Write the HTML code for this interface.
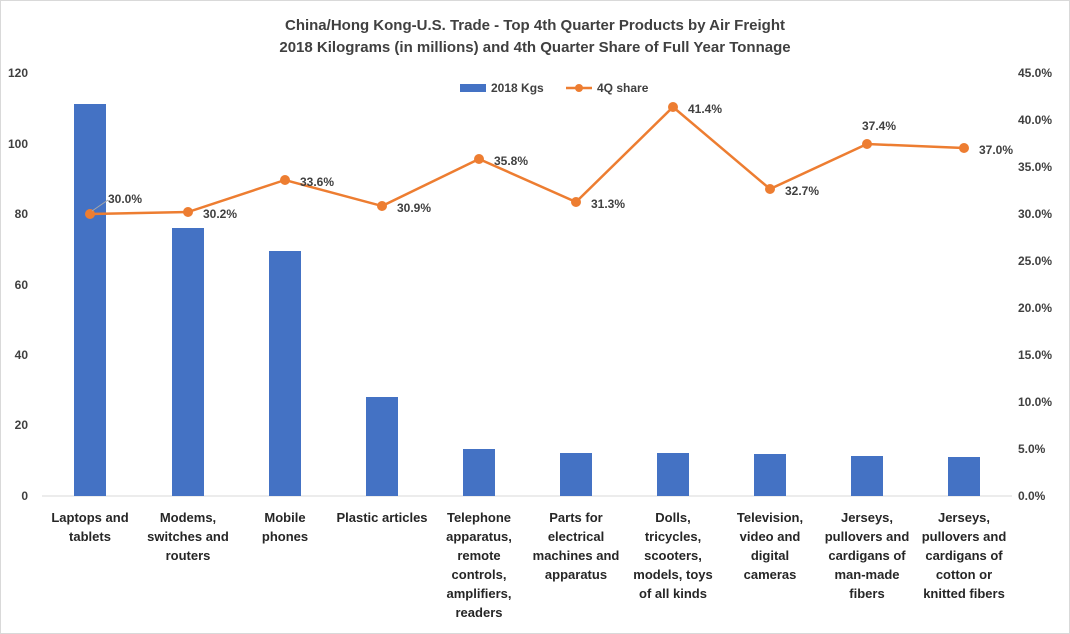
<!DOCTYPE html>
<html><head><meta charset="utf-8"><style>
body{margin:0;background:#fff;}
svg{display:block;font-family:"Liberation Sans",Arial,sans-serif;}
</style></head><body>
<svg width="1070" height="634" viewBox="0 0 1070 634">
<rect x="0.5" y="0.5" width="1069" height="633" fill="#fff" stroke="#d9d9d9"/>
<text x="535" y="30" text-anchor="middle" font-size="15" font-weight="bold" fill="#404040">China/Hong Kong-U.S. Trade - Top 4th Quarter Products by Air Freight</text>
<text x="535" y="52" text-anchor="middle" font-size="15" font-weight="bold" fill="#404040">2018 Kilograms (in millions) and 4th Quarter Share of Full Year Tonnage</text>
<line x1="42" y1="496" x2="1012" y2="496" stroke="#d9d9d9"/>
<g font-size="12" font-weight="bold" fill="#404040" text-anchor="end">
<text x="28" y="77">120</text><text x="28" y="148">100</text><text x="28" y="218">80</text><text x="28" y="289">60</text><text x="28" y="359">40</text><text x="28" y="429">20</text><text x="28" y="500">0</text>
</g>
<g font-size="12" font-weight="bold" fill="#404040" text-anchor="start">
<text x="1018" y="77">45.0%</text><text x="1018" y="124">40.0%</text><text x="1018" y="171">35.0%</text><text x="1018" y="218">30.0%</text><text x="1018" y="265">25.0%</text><text x="1018" y="312">20.0%</text><text x="1018" y="359">15.0%</text><text x="1018" y="406">10.0%</text><text x="1018" y="453">5.0%</text><text x="1018" y="500">0.0%</text>
</g>
<g fill="#4472c4">
<rect x="74" y="104" width="32" height="392"/>
<rect x="172" y="228" width="32" height="268"/>
<rect x="269" y="251" width="32" height="245"/>
<rect x="366" y="397" width="32" height="99"/>
<rect x="463" y="449" width="32" height="47"/>
<rect x="560" y="453" width="32" height="43"/>
<rect x="657" y="453" width="32" height="43"/>
<rect x="754" y="454" width="32" height="42"/>
<rect x="851" y="456" width="32" height="40"/>
<rect x="948" y="457" width="32" height="39"/>
</g>
<polyline fill="none" stroke="#ed7d31" stroke-width="2.5" points="90,214 188,212 285,180 382,206 479,159 576,202 673,107 770,189 867,144 964,148"/>
<g fill="#ed7d31">
<circle cx="90" cy="214" r="5"/><circle cx="188" cy="212" r="5"/><circle cx="285" cy="180" r="5"/><circle cx="382" cy="206" r="5"/><circle cx="479" cy="159" r="5"/><circle cx="576" cy="202" r="5"/><circle cx="673" cy="107" r="5"/><circle cx="770" cy="189" r="5"/><circle cx="867" cy="144" r="5"/><circle cx="964" cy="148" r="5"/>
</g>
<line x1="92" y1="211" x2="108" y2="200" stroke="#a6a6a6"/>
<g font-size="12" font-weight="bold" fill="#404040">
<text x="108" y="203">30.0%</text><text x="203" y="218">30.2%</text><text x="300" y="186">33.6%</text><text x="397" y="212">30.9%</text><text x="494" y="165">35.8%</text><text x="591" y="208">31.3%</text><text x="688" y="113">41.4%</text><text x="785" y="195">32.7%</text><text x="862" y="130">37.4%</text><text x="979" y="154">37.0%</text>
</g>
<rect x="460" y="84" width="26" height="8" fill="#4472c4"/>
<text x="491" y="92" font-size="12" font-weight="bold" fill="#404040">2018 Kgs</text>
<line x1="566" y1="88" x2="592" y2="88" stroke="#ed7d31" stroke-width="2.5"/>
<circle cx="579" cy="88" r="4" fill="#ed7d31"/>
<text x="597" y="92" font-size="12" font-weight="bold" fill="#404040">4Q share</text>
<g font-size="13" font-weight="bold" fill="#262626" text-anchor="middle">
<text x="90" y="522">Laptops and</text><text x="90" y="541">tablets</text>
<text x="188" y="522">Modems,</text><text x="188" y="541">switches and</text><text x="188" y="560">routers</text>
<text x="285" y="522">Mobile</text><text x="285" y="541">phones</text>
<text x="382" y="522">Plastic articles</text>
<text x="479" y="522">Telephone</text><text x="479" y="541">apparatus,</text><text x="479" y="560">remote</text><text x="479" y="579">controls,</text><text x="479" y="598">amplifiers,</text><text x="479" y="617">readers</text>
<text x="576" y="522">Parts for</text><text x="576" y="541">electrical</text><text x="576" y="560">machines and</text><text x="576" y="579">apparatus</text>
<text x="673" y="522">Dolls,</text><text x="673" y="541">tricycles,</text><text x="673" y="560">scooters,</text><text x="673" y="579">models, toys</text><text x="673" y="598">of all kinds</text>
<text x="770" y="522">Television,</text><text x="770" y="541">video and</text><text x="770" y="560">digital</text><text x="770" y="579">cameras</text>
<text x="867" y="522">Jerseys,</text><text x="867" y="541">pullovers and</text><text x="867" y="560">cardigans of</text><text x="867" y="579">man-made</text><text x="867" y="598">fibers</text>
<text x="964" y="522">Jerseys,</text><text x="964" y="541">pullovers and</text><text x="964" y="560">cardigans of</text><text x="964" y="579">cotton or</text><text x="964" y="598">knitted fibers</text>
</g>
</svg>
</body></html>
